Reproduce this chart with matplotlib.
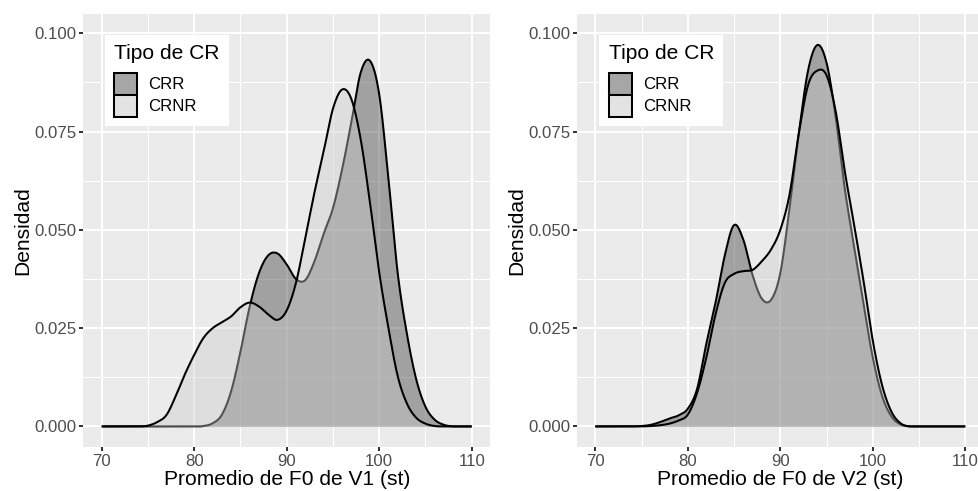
import numpy as np
import matplotlib
matplotlib.use("Agg")
import matplotlib.pyplot as plt
from matplotlib.patches import Patch

plt.rcParams['font.family'] = ['Liberation Sans', 'DejaVu Sans']

# ---------------- data (density estimates) ----------------
x_st = list(range(70, 111))  # semitones, 70..110

v1_crr = [0, 0, 0, 0, 0, 0, 0, 0, 0, 0, 0,
          0.0001, 0.0008, 0.003, 0.009, 0.019, 0.0305, 0.039, 0.0435, 0.044, 0.0412,
          0.0375, 0.0372, 0.042, 0.049, 0.0555, 0.0655, 0.0775, 0.090, 0.093, 0.0845,
          0.063, 0.039, 0.0235, 0.012, 0.005, 0.0017, 0.0004,
          0, 0, 0]
v1_crnr = [0, 0, 0, 0, 0,
           0.0002, 0.0011, 0.0029, 0.0077, 0.0133, 0.0182, 0.0225, 0.025, 0.0265, 0.028,
           0.0303, 0.0315, 0.0305, 0.0285, 0.0271, 0.0295, 0.0365, 0.0478, 0.0595, 0.070,
           0.0808, 0.0857, 0.0832, 0.073, 0.057, 0.0392, 0.025, 0.0128, 0.0058, 0.0022,
           0.0007, 0.0001,
           0, 0, 0, 0]
v2_crr = [0, 0, 0, 0, 0,
          0.0001, 0.0004, 0.0011, 0.002, 0.0028, 0.0045, 0.0095, 0.021, 0.0315, 0.0435,
          0.0512, 0.0475, 0.0385, 0.0325, 0.0322, 0.039, 0.0555, 0.0745, 0.0905, 0.097,
          0.0925, 0.0785, 0.060, 0.0455, 0.031, 0.0175, 0.0078, 0.0026, 0.0005,
          0, 0, 0, 0, 0, 0, 0]
v2_crnr = [0, 0, 0, 0, 0, 0,
           0.0001, 0.0003, 0.0007, 0.0015, 0.003, 0.0085, 0.0175, 0.0285, 0.0365,
           0.0388, 0.0395, 0.0398, 0.042, 0.045, 0.050, 0.059, 0.0745, 0.0868, 0.0905,
           0.0893, 0.080, 0.0645, 0.051, 0.037, 0.0218, 0.0105, 0.0038, 0.0008,
           0, 0, 0, 0, 0, 0, 0]

groups = ["CRR", "CRNR"]
fill_colors = {"CRR": "#333333", "CRNR": "#CCCCCC"}   # scale_fill_grey
fill_alpha = 0.4
key_colors = {"CRR": "#A6A6A6", "CRNR": "#E3E3E3"}    # keys as composited over grey95

x_ticks = [70, 80, 90, 100, 110]
y_ticks = [0.0, 0.025, 0.05, 0.075, 0.1]
y_tick_labels = ["0.000", "0.025", "0.050", "0.075", "0.100"]
panels = [
    {"crr": v1_crr, "crnr": v1_crnr, "xlabel": "Promedio de F0 de V1 (st)"},
    {"crr": v2_crr, "crnr": v2_crnr, "xlabel": "Promedio de F0 de V2 (st)"},
]


def smooth(x, y, n=24):
    """Cubic Hermite (Catmull-Rom) curve through the read values, for drawing."""
    x = np.asarray(x, float)
    y = np.asarray(y, float)
    m = np.gradient(y, x)
    xs, ys = [], []
    t = np.linspace(0, 1, n, endpoint=False)
    h00 = 2 * t**3 - 3 * t**2 + 1
    h10 = t**3 - 2 * t**2 + t
    h01 = -2 * t**3 + 3 * t**2
    h11 = t**3 - t**2
    for i in range(len(x) - 1):
        h = x[i + 1] - x[i]
        xs.append(x[i] + t * h)
        ys.append(h00 * y[i] + h10 * h * m[i] + h01 * y[i + 1] + h11 * h * m[i + 1])
    xs.append([x[-1]])
    ys.append([y[-1]])
    return np.concatenate(xs), np.clip(np.concatenate(ys), 0, None)


W, H = 979, 491
fig = plt.figure(figsize=(W / 100, H / 100), dpi=100)
fig.patch.set_facecolor("white")

lw = 1.47
ax_lefts = [83.2, 576.8]
ax_w, ax_top, ax_bot = 407.0, 14.0, 446.7
legend_lefts = [105.0, 599.3]

for p, left, lg_left in zip(panels, ax_lefts, legend_lefts):
    ax = fig.add_axes([left / W, 1 - ax_bot / H, ax_w / W, (ax_bot - ax_top) / H])
    ax.set_facecolor("#EBEBEB")
    for s in ax.spines.values():
        s.set_visible(False)
    ax.set_xlim(68, 112)
    ax.set_ylim(-0.00516, 0.1049)
    ax.set_xticks(x_ticks)
    ax.set_xticks([75, 85, 95, 105], minor=True)
    ax.set_yticks(y_ticks)
    ax.set_yticklabels(y_tick_labels)
    ax.set_yticks([0.0125, 0.0375, 0.0625, 0.0875], minor=True)
    ax.grid(which="major", color="white", lw=lw)
    ax.grid(which="minor", color="white", lw=lw / 2)
    ax.set_axisbelow(True)
    ax.tick_params(which="major", length=2.9, width=lw, color="#333333",
                   labelsize=12.1, labelcolor="#4D4D4D")
    ax.tick_params(axis="y", which="major", pad=1.8)
    ax.tick_params(axis="x", which="major", pad=2.4)
    ax.tick_params(which="minor", length=0)

    for g in groups:
        xs, ys = smooth(x_st, p[g.lower()])
        ax.fill_between(xs, 0, ys, color=fill_colors[g], alpha=fill_alpha, lw=0, zorder=2)
        ax.plot(xs, ys, color="black", lw=lw, zorder=2, solid_capstyle="butt")

    ax.set_xlabel(p["xlabel"], fontsize=15.1, labelpad=1.0)
    ax.set_ylabel("Densidad", fontsize=15.1, labelpad=1.5)

    handles = [Patch(facecolor=key_colors[g], edgecolor="black", lw=lw) for g in groups]
    leg = ax.legend(handles, groups, title="Tipo de CR", loc="upper left",
                    bbox_to_anchor=((lg_left - left) / ax_w, (ax_bot - 35.0) / (ax_bot - ax_top)),
                    borderaxespad=0, fontsize=12.1, title_fontsize=15.1,
                    handlelength=1.38, handleheight=1.62, handletextpad=0.66,
                    labelspacing=0.0, borderpad=0.55, frameon=True, fancybox=False,
                    framealpha=1, alignment="left")
    leg._legend_box.sep = 7
    leg.get_frame().set_facecolor("white")
    leg.get_frame().set_edgecolor("none")
    leg.set_zorder(5)

fig.savefig("out.png", dpi=100, facecolor="white")
